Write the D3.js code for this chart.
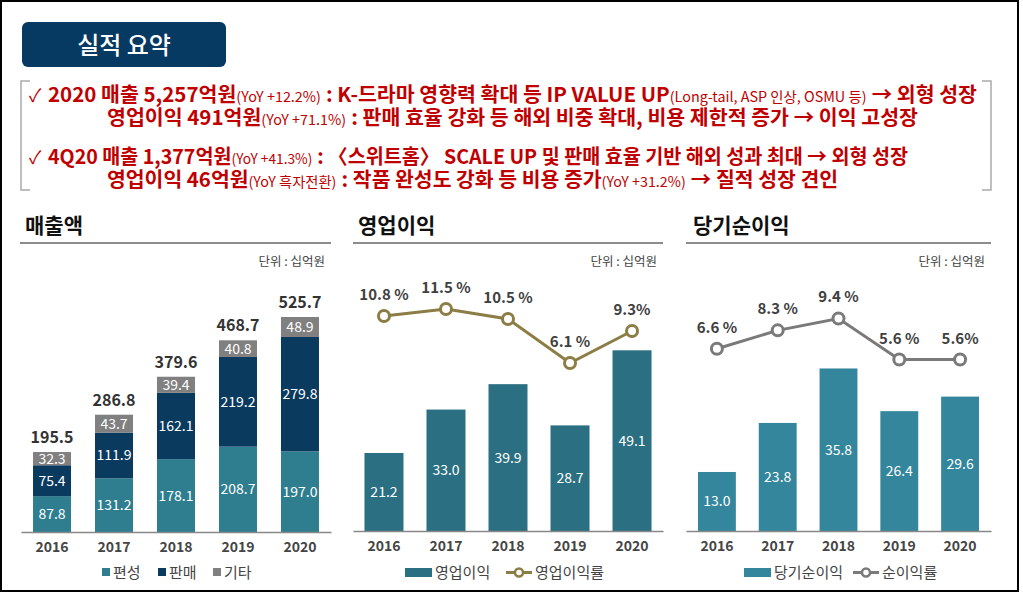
<!DOCTYPE html>
<html><head><meta charset="utf-8">
<script src="https://cdn.jsdelivr.net/npm/d3@7"></script>
<style>
html,body{margin:0;padding:0;background:#fff;}
svg{display:block;}
text{font-family:"Noto Sans CJK KR","Noto Sans",sans-serif;}
</style></head>
<body><svg id="c" width="1023" height="594"></svg>
<script>
const years = ['2016','2017','2018','2019','2020'];
const salesPyeonseong = [87.8,131.2,178.1,208.7,197.0];
const salesPanmae = [75.4,111.9,162.1,219.2,279.8];
const salesGita = [32.3,43.7,39.4,40.8,48.9];
const salesTotal = [195.5,286.8,379.6,468.7,525.7];
const opProfit = [21.2,33.0,39.9,28.7,49.1];
const opMargin = [10.8,11.5,10.5,6.1,9.3];
const opMarginLabels = ['10.8 %','11.5 %','10.5 %','6.1 %','9.3%'];
const netProfit = [13.0,23.8,35.8,26.4,29.6];
const netMargin = [6.6,8.3,9.4,5.6,5.6];
const netMarginLabels = ['6.6 %','8.3 %','9.4 %','5.6 %','5.6%'];
const salesSeries = ['편성','판매','기타'];
const panelTitles = ['매출액','영업이익','당기순이익'];
const unitLabel = '단위 : 십억원';
const headerTitle = '실적 요약';
const summaryLines = [
  [['✓','c'],['2020 매출 5,257억원','b'],['(YoY +12.2%)','s'],[': K-드라마 영향력 확대 등 IP VALUE UP','b'],['(Long-tail, ASP 인상, OSMU 등)','s'],['→ 외형 성장','b']],
  [['영업이익 491억원','b'],['(YoY +71.1%)','s'],[': 판매 효율 강화 등 해외 비중 확대, 비용 제한적 증가 → 이익 고성장','b']],
  [['✓','c'],['4Q20 매출 1,377억원','b'],['(YoY +41.3%)','s'],[': 〈스위트홈〉 SCALE UP 및 판매 효율 기반 해외 성과 최대 → 외형 성장','b']],
  [['영업이익 46억원','b'],['(YoY 흑자전환)','s'],[': 작품 완성도 강화 등 비용 증가','b'],['(YoY +31.2%)','s'],['→ 질적 성장 견인','b']]
];

const svg = d3.select('#c');
const RED = '#c00000';
const seriesColors = ['#2e7e8f','#0b3a5f','#808080'];

// frame
svg.append('rect').attr('x',1).attr('y',1).attr('width',1017).attr('height',590)
  .attr('fill','none').attr('stroke','#000').attr('stroke-width',2);

// header box
svg.append('rect').attr('x',22).attr('y',22).attr('width',204).attr('height',45).attr('rx',6)
  .attr('fill','#063a62');
svg.append('text').attr('x',124).attr('y',54).attr('text-anchor','middle')
  .attr('fill','#fff').attr('font-size',24).attr('font-weight',500).text(headerTitle);

// brackets
svg.append('path').attr('d','M30,81H21V190H30').attr('fill','none').attr('stroke','#aaa').attr('stroke-width',1.5);
svg.append('path').attr('d','M982,81H991V190H982').attr('fill','none').attr('stroke','#aaa').attr('stroke-width',1.5);

// summary text: segments laid out one after another, each line fitted to its span
const lineStart = [48,107,48,107];
const lineEnd = [977,918,908,838];
const lineY = [102,125,164,187];
summaryLines.forEach((segs,i)=>{
  const g = svg.append('g');
  const items = [];
  segs.forEach(([s,k],j)=>{
    if(k==='c'){
      g.append('text').attr('x',29).attr('y',lineY[i]).attr('fill',RED).attr('font-size',18)
        .attr('font-family','"DejaVu Sans",sans-serif').text(s);
      return;
    }
    const t = g.append('text').attr('y',lineY[i]).attr('fill',RED)
      .attr('font-size',k==='b'?20:14).attr('font-weight',k==='b'?700:400).text(s);
    const w = t.node().getComputedTextLength();
    const gap = (items.length && k==='b' && (s[0]===':'||s[0]==='→')) ? 5 : 0;
    items.push({t,w,gap});
  });
  const total = d3.sum(items,d=>d.w+d.gap);
  const f = (lineEnd[i]-lineStart[i])/total;
  let cur = lineStart[i];
  items.forEach(it=>{
    cur += it.gap*f;
    it.t.attr('x',cur).attr('textLength',it.w*f).attr('lengthAdjust','spacingAndGlyphs');
    cur += it.w*f;
  });
});

function panelFrame(x0,x1,titleX,title){
  svg.append('text').attr('x',titleX).attr('y',233).attr('font-size',21).attr('font-weight',700)
    .attr('fill','#111').text(title);
  svg.append('line').attr('x1',x0).attr('x2',x1).attr('y1',243).attr('y2',243)
    .attr('stroke','#8c8c8c').attr('stroke-width',2);
  svg.append('text').attr('x',x1-6).attr('y',266).attr('text-anchor','end').attr('font-size',12.5)
    .attr('fill','#444').text(unitLabel);
}
function drawAxis(x,y0){
  const g = svg.append('g').attr('transform',`translate(0,${y0})`)
    .call(d3.axisBottom(x).tickSize(0).tickPadding(10));
  g.select('.domain').attr('stroke','#888').attr('stroke-width',1.5);
  g.selectAll('text').attr('font-size',14).attr('font-weight',700).attr('fill','#454545')
    .attr('font-family','"Noto Sans",sans-serif');
}

// ---- Panel 1: 매출액 stacked
panelFrame(20,331,25,panelTitles[0]);
const x1 = d3.scaleBand().domain(years).range([21,331]).paddingInner(0.387).paddingOuter(0.194);
const y1 = d3.scaleLinear().domain([0,600]).range([532,286.6]);
const stackData = years.map((yr,i)=>({yr, '편성':salesPyeonseong[i],'판매':salesPanmae[i],'기타':salesGita[i]}));
const stacked = d3.stack().keys(salesSeries)(stackData);
stacked.forEach((layer,li)=>{
  svg.append('g').selectAll('rect').data(layer).join('rect')
    .attr('x',d=>x1(d.data.yr)).attr('width',x1.bandwidth())
    .attr('y',d=>y1(d[1])).attr('height',d=>y1(d[0])-y1(d[1]))
    .attr('fill',seriesColors[li]);
  svg.append('g').selectAll('text').data(layer).join('text')
    .attr('x',d=>x1(d.data.yr)+x1.bandwidth()/2)
    .attr('y',d=>(y1(d[0])+y1(d[1]))/2+5).attr('text-anchor','middle')
    .attr('font-size',14).attr('fill','#fff').attr('font-family','"Noto Sans",sans-serif')
    .text(d=>(d[1]-d[0]).toFixed(1));
});
svg.append('g').selectAll('text').data(salesTotal).join('text')
  .attr('x',(d,i)=>x1(years[i])+x1.bandwidth()/2).attr('y',d=>y1(d)-9)
  .attr('text-anchor','middle').attr('font-size',16).attr('font-weight',600).attr('fill','#333')
  .attr('font-family','"Noto Sans",sans-serif').text(d=>d.toFixed(1));
drawAxis(x1,532);
// legend 1
const leg1X = [102,158,213];
salesSeries.forEach((s,i)=>{
  svg.append('rect').attr('x',leg1X[i]).attr('y',568).attr('width',8).attr('height',8).attr('fill',seriesColors[i]);
  svg.append('text').attr('x',leg1X[i]+11).attr('y',578).attr('font-size',15).attr('fill','#444').text(s);
});

// ---- generic bar+line panel
function barLinePanel(cfg){
  panelFrame(cfg.x0,cfg.x1,cfg.titleX,cfg.title);
  const x = d3.scaleBand().domain(years).range([cfg.x0,cfg.x1]).paddingInner(cfg.pi).paddingOuter(cfg.po);
  const yb = d3.scaleLinear().domain(cfg.barDomain).range([531,cfg.barTop]);
  const yl = d3.scaleLinear().domain(cfg.lineDomain).range(cfg.lineRange);
  svg.append('g').selectAll('rect').data(cfg.bars).join('rect')
    .attr('x',(d,i)=>x(years[i])).attr('width',x.bandwidth())
    .attr('y',d=>yb(d)).attr('height',d=>yb(0)-yb(d)).attr('fill',cfg.barColor);
  svg.append('g').selectAll('text').data(cfg.bars).join('text')
    .attr('x',(d,i)=>x(years[i])+x.bandwidth()/2).attr('y',d=>(yb(d)+yb(0))/2+5)
    .attr('text-anchor','middle').attr('font-size',14).attr('fill','#fff')
    .attr('font-family','"Noto Sans",sans-serif').text(d=>d.toFixed(1));
  drawAxis(x,531);
  const cx = (d,i)=>x(years[i])+x.bandwidth()/2;
  svg.append('path').datum(cfg.line)
    .attr('d',d3.line().x(cx).y(d=>yl(d)))
    .attr('fill','none').attr('stroke',cfg.lineColor).attr('stroke-width',3);
  svg.append('g').selectAll('circle').data(cfg.line).join('circle')
    .attr('cx',cx).attr('cy',d=>yl(d)).attr('r',5.5)
    .attr('fill','#fff').attr('stroke',cfg.lineColor).attr('stroke-width',3);
  svg.append('g').selectAll('text').data(cfg.line).join('text')
    .attr('x',cx).attr('y',d=>yl(d)-16).attr('text-anchor','middle')
    .attr('font-size',15).attr('font-weight',600).attr('fill','#404040')
    .attr('font-family','"Noto Sans",sans-serif')
    .text((d,i)=>cfg.labels[i]);
  // legend
  const L = cfg.legX;
  svg.append('rect').attr('x',L[0]).attr('y',568).attr('width',27).attr('height',9).attr('fill',cfg.barColor);
  svg.append('text').attr('x',L[0]+30).attr('y',578).attr('font-size',15).attr('fill','#444').text(cfg.legNames[0]);
  svg.append('line').attr('x1',L[1]).attr('x2',L[1]+26).attr('y1',572.5).attr('y2',572.5)
    .attr('stroke',cfg.lineColor).attr('stroke-width',3);
  svg.append('circle').attr('cx',L[1]+13).attr('cy',572.5).attr('r',4).attr('fill','#fff')
    .attr('stroke',cfg.lineColor).attr('stroke-width',2.5);
  svg.append('text').attr('x',L[1]+29).attr('y',578).attr('font-size',15).attr('fill','#444').text(cfg.legNames[1]);
}

barLinePanel({x0:353,x1:663,titleX:358,title:panelTitles[1],pi:0.371,po:0.185,
  barDomain:[0,60],barTop:310.2,lineDomain:[0,12],lineRange:[424,304],
  bars:opProfit,line:opMargin,labels:opMarginLabels,barColor:'#2b6f82',lineColor:'#8b7d45',
  legX:[405,506],legNames:['영업이익','영업이익률']});
barLinePanel({x0:686,x1:991,titleX:693,title:panelTitles[2],pi:0.377,po:0.197,
  barDomain:[0,40],barTop:349.4,lineDomain:[0,10],lineRange:[420,312],
  bars:netProfit,line:netMargin,labels:netMarginLabels,barColor:'#34869c',lineColor:'#7a7a7a',
  legX:[744,853],legNames:['당기순이익','순이익률']});
</script></body></html>
